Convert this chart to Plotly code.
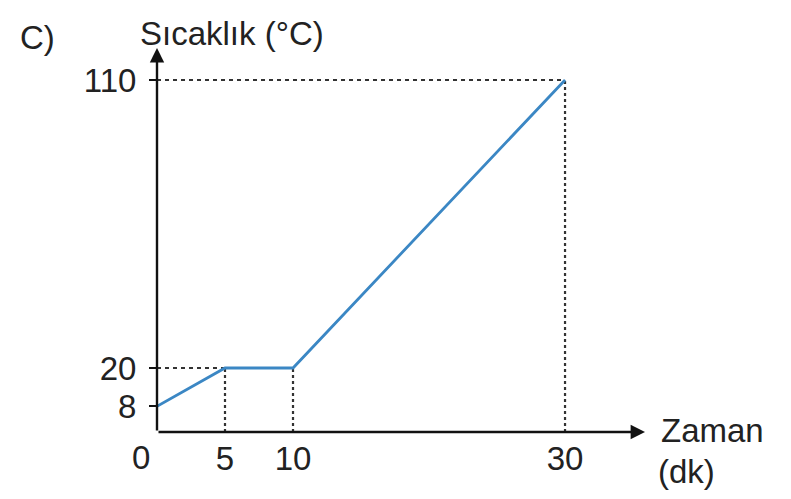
import plotly.graph_objects as go

# Data
zaman = [0, 5, 10, 30]          # dk
sicaklik = [8, 20, 20, 110]     # °C
x_ticks = [5, 10, 30]
x_tick_labels = ["5", "10", "30"]
y_ticks = [8, 20, 110]
y_tick_labels = ["8", "20", "110"]

X_MAX = 35.88
Y_MAX = 120
FONT = "Liberation Sans, Arial, sans-serif"
TXT = "#222222"
LINE_BLUE = "#3b87c4"

# page offset from default body margin
OFF = 8
W, H = 791 - 2 * OFF, 499 - 2 * OFF
ML, MR, MT, MB = 149, 138, 40, 59
PW, PH = W - ML - MR, H - MT - MB


def px(xp, yp):
    """page pixel -> paper coords"""
    return (xp - OFF - ML) / PW, 1 - (yp - OFF - MT) / PH


fig = go.Figure()

# Dotted guide lines derived from the data points
for xv, yv in zip(zaman[1:], sicaklik[1:]):
    fig.add_trace(go.Scatter(x=[xv, xv], y=[0, yv], mode="lines",
                             line=dict(color="#333333", width=2.2, dash="3px,3px"),
                             hoverinfo="skip", showlegend=False))
for xv, yv in [(zaman[1], sicaklik[1]), (zaman[3], sicaklik[3])]:
    fig.add_trace(go.Scatter(x=[0, xv], y=[yv, yv], mode="lines",
                             line=dict(color="#333333", width=2, dash="4px,4px"),
                             hoverinfo="skip", showlegend=False))

# Main line
fig.add_trace(go.Scatter(x=zaman, y=sicaklik, mode="lines",
                         line=dict(color=LINE_BLUE, width=2.8),
                         showlegend=False, cliponaxis=False))

# Axis arrows
for (tx, ty) in [(X_MAX, 0), (0, Y_MAX)]:
    fig.add_annotation(x=tx, y=ty, ax=0, ay=0, xref="x", yref="y", axref="x", ayref="y",
                       text="", showarrow=True, arrowhead=2, arrowsize=1.2, arrowwidth=2.4,
                       arrowcolor="#111111", standoff=0)

# Texts
def label(text, xp, yp, xanchor="center", size=33):
    ax_, ay_ = px(xp, yp)
    fig.add_annotation(x=ax_, y=ay_, xref="paper", yref="paper", text=text,
                       showarrow=False, xanchor=xanchor, yanchor="middle",
                       font=dict(size=size, color=TXT, family=FONT))


label("C)", 37, 38)
label("Sıcaklık (°C)", 138, 33, xanchor="left")
label("0", 141, 457)
label("Zaman", 659, 430, xanchor="left")
label("(dk)", 656, 471, xanchor="left")

fig.update_layout(
    width=W, height=H,
    margin=dict(l=ML, r=MR, t=MT, b=MB, autoexpand=False),
    paper_bgcolor="white", plot_bgcolor="white",
    font=dict(family=FONT, color=TXT, size=33),
    xaxis=dict(range=[0, X_MAX], showgrid=False, zeroline=False, showline=False,
               tickmode="array", tickvals=x_ticks, ticktext=x_tick_labels,
               ticks="", ticklabelstandoff=4, tickfont=dict(size=33, color=TXT)),
    yaxis=dict(range=[0, Y_MAX], showgrid=False, zeroline=False, showline=False,
               tickmode="array", tickvals=y_ticks, ticktext=y_tick_labels,
               ticks="outside", ticklen=7, tickwidth=2, tickcolor="#111111",
               ticklabelstandoff=6, tickfont=dict(size=33, color=TXT)),
)

fig.write_html("out.html")
